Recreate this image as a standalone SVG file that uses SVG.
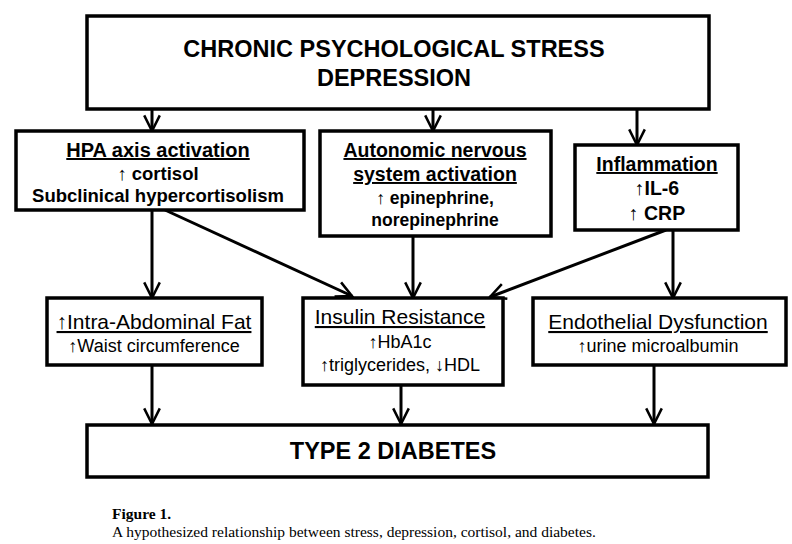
<svg xmlns="http://www.w3.org/2000/svg" width="792" height="544" viewBox="0 0 792 544">
<style>
.box{fill:#fff;stroke:#000;stroke-width:3.5}
.b{font-family:"Liberation Sans",Arial,sans-serif;font-weight:bold;text-anchor:middle;fill:#000}
.n{font-family:"Liberation Sans",Arial,sans-serif;text-anchor:middle;fill:#000}
.c{stroke:#000;stroke-width:3;fill:none}
.cap{font-family:"Liberation Serif","Times New Roman",serif;font-size:15.5px;fill:#000}
</style>
<defs><marker id="ah" viewBox="0 0 10 10" refX="9" refY="5" markerWidth="6.5" markerHeight="6.5" orient="auto" markerUnits="strokeWidth"><path d="M1,1 L9,5 L1,9" fill="none" stroke="#000" stroke-width="1.3"/></marker></defs>
<rect width="792" height="544" fill="#fff"/>
<g id="connectors" class="c" marker-end="url(#ah)">
<line x1="152" y1="109" x2="152" y2="131"/>
<line x1="433" y1="109" x2="433" y2="131"/>
<line x1="637" y1="109" x2="637" y2="145"/>
<line x1="152" y1="210" x2="152" y2="298"/>
<line x1="165" y1="210" x2="352" y2="296"/>
<line x1="413" y1="236" x2="413" y2="298"/>
<line x1="666" y1="230" x2="490" y2="297"/>
<line x1="673" y1="230" x2="673" y2="298"/>
<line x1="152" y1="365" x2="152" y2="424"/>
<line x1="401" y1="385" x2="401" y2="424"/>
<line x1="654" y1="365" x2="654" y2="424"/>
</g>
<g id="stress"><rect class="box" x="87" y="16" width="622" height="93"/>
<text class="b" x="394" y="57" font-size="23.5">CHRONIC PSYCHOLOGICAL STRESS</text>
<text class="b" x="394" y="86" font-size="23.5">DEPRESSION</text></g>
<g id="hpa"><rect class="box" x="16" y="131" width="288" height="79"/>
<text class="b" x="158" y="157" font-size="20" text-decoration="underline">HPA axis activation</text>
<text class="b" x="158" y="180" font-size="18.5">↑ cortisol</text>
<text class="b" x="158" y="202" font-size="18.5">Subclinical hypercortisolism</text></g>
<g id="ans"><rect class="box" x="320" y="131" width="231" height="105"/>
<text class="b" x="435" y="157" font-size="19.5" text-decoration="underline">Autonomic nervous</text>
<text class="b" x="435" y="181" font-size="19.5" text-decoration="underline">system activation</text>
<text class="b" x="435" y="204" font-size="17.5">↑ epinephrine,</text>
<text class="b" x="435" y="226" font-size="17.5">norepinephrine</text></g>
<g id="inflam"><rect class="box" x="575" y="145" width="163" height="85"/>
<text class="b" x="657" y="171" font-size="19.5" text-decoration="underline">Inflammation</text>
<text class="b" x="657" y="195" font-size="19.5">↑IL-6</text>
<text class="b" x="657" y="220" font-size="19.5">↑ CRP</text></g>
<g id="fat"><rect class="box" x="47" y="298" width="215" height="67"/>
<text class="n" x="154" y="329" font-size="21" text-decoration="underline">↑Intra-Abdominal Fat</text>
<text class="n" x="154" y="352" font-size="18">↑Waist circumference</text></g>
<g id="insulin"><rect class="box" x="303" y="298" width="200" height="87"/>
<text class="n" x="400" y="324" font-size="21" text-decoration="underline">Insulin Resistance</text>
<text class="n" x="400" y="348" font-size="18">↑HbA1c</text>
<text class="n" x="400" y="371" font-size="18">↑triglycerides, ↓HDL</text></g>
<g id="endo"><rect class="box" x="533" y="298" width="253" height="67"/>
<text class="n" x="658" y="329" font-size="21" text-decoration="underline">Endothelial Dysfunction</text>
<text class="n" x="658" y="352" font-size="18">↑urine microalbumin</text></g>
<g id="t2d"><rect class="box" x="87" y="425" width="621" height="52"/>
<text class="b" x="393" y="459" font-size="23.5">TYPE 2 DIABETES</text></g>
<text class="cap" x="112" y="519" font-weight="bold">Figure 1.</text>
<text class="cap" x="112" y="537">A hypothesized relationship between stress, depression, cortisol, and diabetes.</text>
</svg>
